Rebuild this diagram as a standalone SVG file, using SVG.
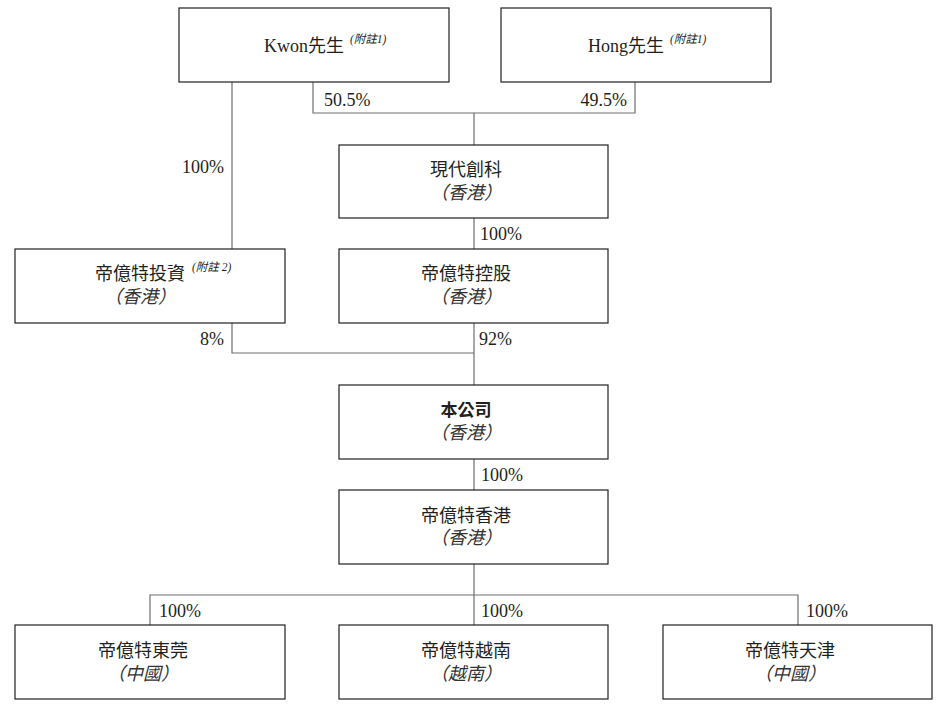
<svg xmlns="http://www.w3.org/2000/svg" width="942" height="710" viewBox="0 0 942 710">
<style>
.box{fill:#fff;stroke:#231f20;stroke-width:1.2}
.ln{fill:none;stroke:#6d6e71;stroke-width:1.2}
.t{font-family:"Liberation Serif","Noto Sans CJK TC",serif;font-size:18px;fill:#231f20}
.m{text-anchor:middle}
.s{font-style:italic;font-size:18px;fill:#333}
.b{font-family:"Noto Sans CJK TC",sans-serif;font-weight:bold;font-size:17px}
.sup{font-style:italic;font-size:11.5px}
.p{font-family:"Liberation Serif",serif;font-size:18px;fill:#231f20}
.e{text-anchor:end}
</style>
<rect width="942" height="710" fill="#fff"/>
<g id="connectors">
<path class="ln" d="M313 82V113H635V82"/>
<path class="ln" d="M474 113V145"/>
<path class="ln" d="M232 82V249"/>
<path class="ln" d="M474 218V249"/>
<path class="ln" d="M232 323V353H474"/>
<path class="ln" d="M474 323V385"/>
<path class="ln" d="M474 459V490"/>
<path class="ln" d="M474 564V625"/>
<path class="ln" d="M150 625V595H798V625"/>
<text class="p" x="324" y="106">50.5%</text>
<text class="p e" x="627" y="106">49.5%</text>
<text class="p e" x="224" y="173">100%</text>
<text class="p" x="480" y="240">100%</text>
<text class="p e" x="224" y="345">8%</text>
<text class="p" x="479" y="345">92%</text>
<text class="p" x="481" y="481">100%</text>
<text class="p" x="159" y="617">100%</text>
<text class="p" x="481" y="617">100%</text>
<text class="p" x="806" y="617">100%</text>
</g>
<g id="kwon">
<rect class="box" x="179" y="8" width="270" height="74"/>
<text class="t" x="264" y="52">Kwon先生<tspan class="sup" dx="6" dy="-9">(附註1)</tspan></text>
</g>
<g id="hong">
<rect class="box" x="501" y="8" width="270" height="74"/>
<text class="t" x="588" y="52">Hong先生<tspan class="sup" dx="6" dy="-9">(附註1)</tspan></text>
</g>
<g id="xiandai">
<rect class="box" x="339" y="145" width="269" height="73"/>
<text class="t m" x="466" y="176">現代創科</text>
<text class="t m s" x="466" y="199">（香港）</text>
</g>
<g id="touzi">
<rect class="box" x="15" y="249" width="270" height="74"/>
<text class="t" x="95" y="280">帝億特投資<tspan class="sup" dx="7" dy="-9">(附註 2)</tspan></text>
<text class="t m s" x="140" y="303">（香港）</text>
</g>
<g id="konggu">
<rect class="box" x="339" y="249" width="269" height="74"/>
<text class="t m" x="466" y="280">帝億特控股</text>
<text class="t m s" x="466" y="303">（香港）</text>
</g>
<g id="company">
<rect class="box" x="339" y="385" width="269" height="74"/>
<text class="t m b" x="466" y="416">本公司</text>
<text class="t m s" x="466" y="439">（香港）</text>
</g>
<g id="hk">
<rect class="box" x="339" y="490" width="269" height="74"/>
<text class="t m" x="466" y="522">帝億特香港</text>
<text class="t m s" x="466" y="544">（香港）</text>
</g>
<g id="dongguan">
<rect class="box" x="15" y="625" width="270" height="74"/>
<text class="t m" x="143" y="657">帝億特東莞</text>
<text class="t m s" x="143" y="680">（中國）</text>
</g>
<g id="vietnam">
<rect class="box" x="339" y="625" width="269" height="74"/>
<text class="t m" x="466" y="657">帝億特越南</text>
<text class="t m s" x="466" y="680">（越南）</text>
</g>
<g id="tianjin">
<rect class="box" x="663" y="625" width="269" height="74"/>
<text class="t m" x="790" y="657">帝億特天津</text>
<text class="t m s" x="790" y="680">（中國）</text>
</g>
</svg>
